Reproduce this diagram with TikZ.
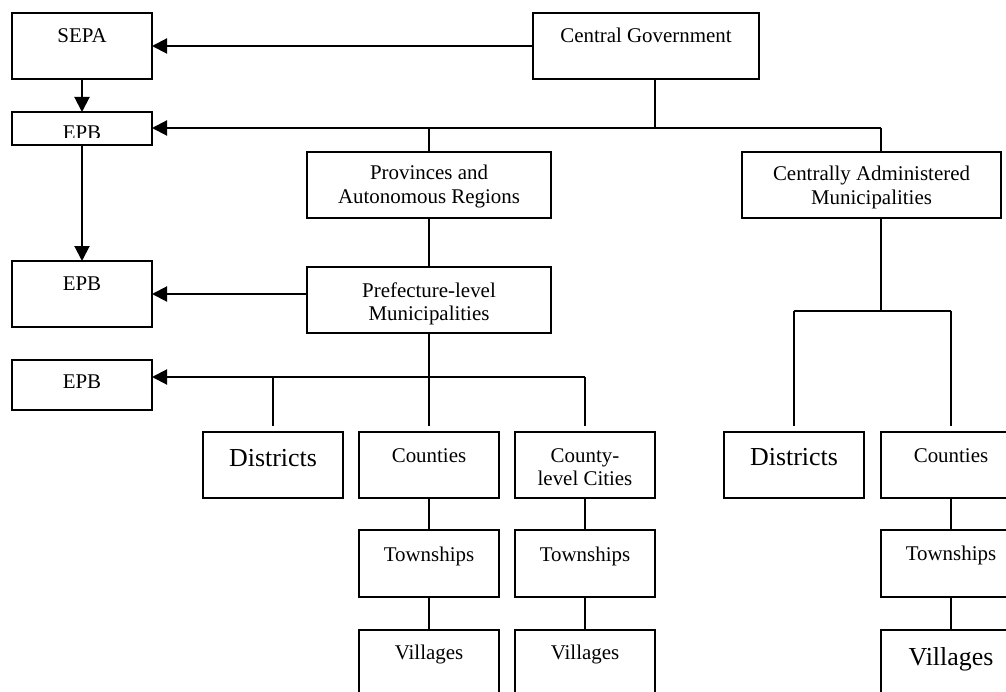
\documentclass[tikz,border=0pt]{standalone}
\usepackage{fontspec}
\setmainfont{Liberation Serif}
\usetikzlibrary{arrows.meta}
\begin{document}
\begin{tikzpicture}[x=1bp,y=-1bp,
  box/.style={draw, line width=2bp, rectangle, inner sep=0pt, outer sep=0pt},
  lbl/.style={font=\fontsize{21}{23.5}\selectfont, inner sep=0pt, anchor=base},
  big/.style={font=\fontsize{26}{29}\selectfont, inner sep=0pt, anchor=base},
  conn/.style={line width=2bp},
  arr/.style={line width=2bp, -{Triangle[length=15bp,width=15bp]}}]
\useasboundingbox (0,0) rectangle (1006,692);

% boxes
\node[box, minimum width=140bp, minimum height=66bp] (sepa) at (82,46) {};
\node[box, minimum width=226bp, minimum height=66bp] (cg) at (646,46) {};
\node[box, minimum width=140bp, minimum height=33bp] (epb1) at (82,128.5) {};
\node[box, minimum width=244bp, minimum height=66bp] (prov) at (429,185) {};
\node[box, minimum width=259bp, minimum height=66bp] (cam) at (871.5,185) {};
\node[box, minimum width=244bp, minimum height=66bp] (pref) at (429,300) {};
\node[box, minimum width=140bp, minimum height=66bp] (epb2) at (82,294) {};
\node[box, minimum width=140bp, minimum height=50bp] (epb3) at (82,385) {};
\node[box, minimum width=140bp, minimum height=66bp] (dist1) at (273,465) {};
\node[box, minimum width=140bp, minimum height=66bp] (cnty1) at (429,465) {};
\node[box, minimum width=140bp, minimum height=66bp] (city) at (585,465) {};
\node[box, minimum width=140bp, minimum height=67bp] (town1) at (429,563.5) {};
\node[box, minimum width=140bp, minimum height=67bp] (town2) at (585,563.5) {};
\node[box, minimum width=140bp, minimum height=67bp] (vill1) at (429,663.5) {};
\node[box, minimum width=140bp, minimum height=67bp] (vill2) at (585,663.5) {};
\node[box, minimum width=140bp, minimum height=66bp] (dist2) at (794,465) {};
\node[box, minimum width=140bp, minimum height=66bp] (cnty2) at (951,465) {};
\node[box, minimum width=140bp, minimum height=67bp] (town3) at (951,563.5) {};
\node[box, minimum width=140bp, minimum height=67bp] (vill3) at (951,663.5) {};

% texts
\node[lbl] (sepat) at (82,43) {SEPA};
\node[lbl] (cgt) at (646,43) {Central Government};
\begin{scope}
  \clip (13,113) rectangle (151,137.5);
  \node[lbl] (epb1t) at (82,140) {EPB};
\end{scope}
\node[lbl] (provt) at (429,180) {\begin{tabular}[t]{@{}c@{}}Provinces and\\Autonomous Regions\end{tabular}};
\node[lbl] (camt) at (871.5,181) {\begin{tabular}[t]{@{}c@{}}Centrally Administered\\Municipalities\end{tabular}};
\node[lbl] (preft) at (429,297) {\begin{tabular}[t]{@{}c@{}}Prefecture-level\\Municipalities\end{tabular}};
\node[lbl] (epb2t) at (82,290) {EPB};
\node[lbl] (epb3t) at (82,388) {EPB};
\node[big] (dist1t) at (273,466) {Districts};
\node[lbl] (cnty1t) at (429,462) {Counties};
\node[lbl] (cityt) at (585,462) {\begin{tabular}[t]{@{}c@{}}County-\\level Cities\end{tabular}};
\node[lbl] (town1t) at (429,561) {Townships};
\node[lbl] (town2t) at (585,561) {Townships};
\node[lbl] (vill1t) at (429,659) {Villages};
\node[lbl] (vill2t) at (585,659) {Villages};
\node[big] (dist2t) at (794,465) {Districts};
\node[lbl] (cnty2t) at (951,462) {Counties};
\node[lbl] (town3t) at (951,560) {Townships};
\node[big] (vill3t) at (951,665) {Villages};

% connectors, top part
\coordinate (j1) at (655,128);
\coordinate (j2) at (881,128);
\coordinate (j3) at (429,128);
\draw[arr] (cg.west) -- (sepa.east);
\draw[arr] (sepa.south) -- (epb1.north);
\draw[conn] (cg.south -| j1) -- (j1);
\draw[arr] (j2) -- (epb1.east |- j2);
\draw[conn] (j2) -- (cam.north -| j2);
\draw[conn] (j3) -- (prov.north);
\draw[conn] (prov.south) -- (pref.north);
\draw[arr] (epb1.south) -- (epb2.north);
\draw[arr] (pref.west |- epb2.east) -- (epb2.east);

% prefecture level branches
\coordinate (k1) at (585,377);
\draw[arr] (k1) -- (epb3.east |- k1);
\draw[conn] (pref.south) -- ([yshift=6bp]cnty1.north);
\draw[conn] (dist1.north |- k1) -- ([yshift=6bp]dist1.north);
\draw[conn] (k1) -- ([yshift=6bp]city.north);
\draw[conn] (cnty1.south) -- (town1.north);
\draw[conn] (town1.south) -- (vill1.north);
\draw[conn] (city.south) -- (town2.north);
\draw[conn] (town2.south) -- (vill2.north);

% centrally administered branches
\coordinate (m1) at (881,311);
\draw[conn] (cam.south -| m1) -- (m1);
\draw[conn] (dist2.north |- m1) -- (cnty2.north |- m1);
\draw[conn] (dist2.north |- m1) -- ([yshift=6bp]dist2.north);
\draw[conn] (cnty2.north |- m1) -- ([yshift=6bp]cnty2.north);
\draw[conn] (cnty2.south) -- (town3.north);
\draw[conn] (town3.south) -- (vill3.north);
\end{tikzpicture}
\end{document}
